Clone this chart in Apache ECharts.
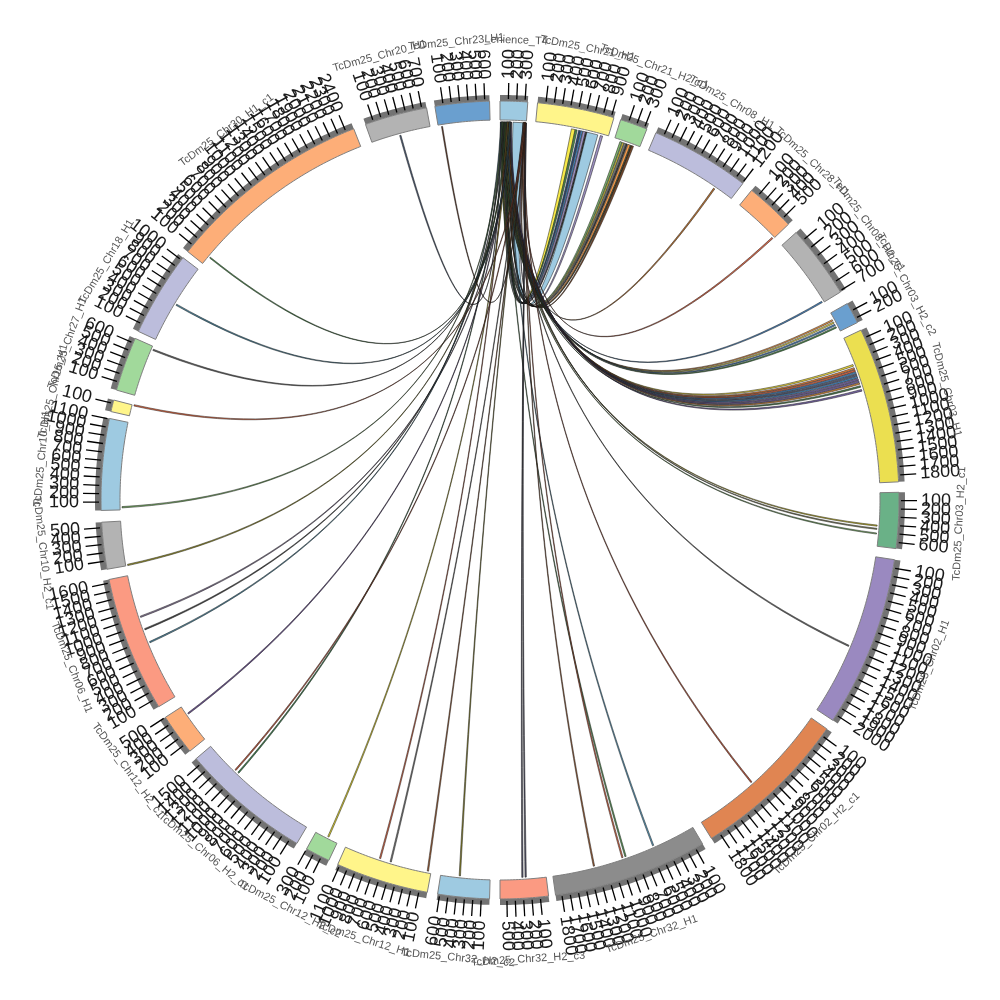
<!DOCTYPE html>
<html><head><meta charset="utf-8">
<style>html,body{margin:0;padding:0;background:#fff}#c{width:1000px;height:1000px}</style>
<script src="https://cdn.jsdelivr.net/npm/echarts@6/dist/echarts.min.js"></script>
</head><body><div id="c"></div>
<script>
// Sectors (positions in angle-axis units; the whole circle is 30000 units)
const sectorNames = ['Lenience_T4','TcDm25_Chr21_H1','TcDm25_Chr21_H2_c1','TcDm25_Chr08_H1','TcDm25_Chr28_H1','TcDm25_Chr08_H2_c1','TcDm25_Chr03_H2_c2','TcDm25_Chr03_H1','TcDm25_Chr03_H2_c1','TcDm25_Chr02_H1','TcDm25_Chr02_H2_c1','TcDm25_Chr32_H1','TcDm25_Chr32_H2_c3','TcDm25_Chr32_H2_c2','TcDm25_Chr12_H1','TcDm25_Chr12_H2_c2','TcDm25_Chr06_H2_c1','TcDm25_Chr12_H2_c1','TcDm25_Chr06_H1','TcDm25_Chr10_H2_c1','TcDm25_Chr10_H1','TcDm25_Chr15_H1','TcDm25_Chr27_H1','TcDm25_Chr18_H1','TcDm25_Chr30_H1_c1','TcDm25_Chr20_H1','TcDm25_Chr23_H1'];
const sectorStarts = [0,450,1467,1917,3258,3992,5042,5400,7408,8217,10417,12458,14417,15125,15875,17117,17550,19250,19900,21667,22375,23567,23833,24583,25708,28358,29217];
const sectorSizes = [333,933,333,1208,600,890,258,1883,675,2075,1917,1875,583,625,1125,300,1583,500,1642,567,1108,142,658,1033,2500,758,658];
const sectorTicks = [3,9,3,12,5,7,2,18,6,20,18,18,5,6,11,3,15,5,16,5,11,1,6,10,24,7,6];
const sectorTickSpacing = [100,100,100,100,100,125,100,100,100,100,100,100,100,100,100,100,100,100,100,100,100,100,100,100,100,100,100];
const sectorColors = ['#9ecae1','#fff58a','#a1d99b','#bcbddc','#fdae78','#b3b3b3','#6a9fcf','#ebdf50','#6ab187','#9a89c0','#e08552','#8c8c8c','#fb9a82','#9ecae1','#fff58a','#a1d99b','#bcbddc','#fdae78','#fb9a82','#b3b3b3','#9ecae1','#fff58a','#a1d99b','#bcbddc','#fdae78','#b3b3b3','#6a9fcf'];

// Links: every one ends on the first sector
const linkFrom = [908,958,1000,1029,1058,1092,1108,1283,1542,1575,1600,1625,1650,1683,1700,2867,3833,4858,5125,5158,5192,5225,5750,5792,5821,5850,5879,5908,5938,5967,5996,6033,6083,7817,7858,7917,9383,11517,13000,13375,13417,13792,14708,14667,15500,15908,16392,16533,17242,18642,18692,19625,20992,20825,20650,21667,22400,23700,24442,25083,25817,28717,29258];
const linkWidth = [46,24,24,24,30,18,142,30,26,20,20,18,30,18,24,19,19,18,18,18,18,18,22,22,22,22,22,22,22,22,18,20,22,14,14,14,17,17,17,17,17,17,17,17,17,17,17,17,17,17,17,17,17,17,17,17,17,17,17,17,14,17,14];
const linkTo = [100,30,50,68,80,90,164,292,5,18,40,60,104,110,302,300,296,60,24,44,72,12,96,112,108,84,116,74,122,128,104,36,132,56,78,34,116,304,88,20,310,315,322,326,300,312,296,92,118,26,306,126,136,48,10,94,22,318,130,120,62,6,320];
const linkToWidth = [11,11,11,11,11,9,126,11,11,9,9,9,11,9,11,9,9,9,9,9,9,9,11,11,11,11,11,11,11,11,9,9,11,8,8,8,9,9,9,9,9,9,9,9,9,9,9,9,9,9,9,9,9,9,9,9,9,9,9,9,8,9,8];
const linkColors = ['#f7ea4a','#4f8f4f','#2d4a77','#4a86c0','#9f93c4','#333333','#9ecae1','#9f93c4','#7fb56d','#d6c83a','#8c8c8c','#3a3a3a','#f09a4a','#4a4a2a','#7a4a2a','#b87333','#d9694a','#4a86c0','#f09a4a','#e6d94a','#4a86c0','#4f8f4f','#f0dc40','#e8803a','#d9694a','#4a86c0','#5d6480','#4a86c0','#7a68a8','#7a68a8','#e8903a','#4f7f4f','#7a68a8','#d6c83a','#8c8c6a','#7fb56d','#6a6a6a','#b8543a','#5f9fc0','#5f9f5f','#d9694a','#a0623a','#5a5a70','#5a5a70','#8f8a30','#a0623a','#7a7a7a','#d9694a','#e6d930','#3f7f4f','#b8543a','#6a4f90','#8a7a9a','#4a4a4a','#4f88a0','#a09a30','#7fb56d','#e8704a','#6a6a6a','#4f88a0','#4f8f4f','#50607a','#6a3f2a'];

const ringR = [380, 399, 405], tickR = [401, 417], labelR = 421, nameR = 460, linkR = 378, ctrlR = 20;
const FULL = 30000;

const deg = a => a / FULL * 360;
function arc(api, r, a0, a1) {
  const n = Math.max(2, Math.ceil((a1 - a0) / 40)), pts = [];
  for (let i = 0; i <= n; i++) pts.push(api.coord([r, a0 + (a1 - a0) * i / n]));
  return pts;
}
function ring(api, r0, r1, a0, a1, fill, stroke) {
  return {type:'polygon', shape:{points: arc(api, r1, a0, a1).concat(arc(api, r0, a0, a1).reverse())},
    style:{fill, stroke: stroke || fill, lineWidth: stroke ? 1 : 0}};
}
function renderSector(params, api) {
  const i = params.dataIndex, s = sectorStarts[i], e = s + sectorSizes[i], kids = [];
  kids.push(ring(api, ringR[1], ringR[2], s, e, '#737373'));
  kids.push(ring(api, ringR[0], ringR[1], s, e, sectorColors[i], '#7f7f7f'));
  for (let k = 1; k <= sectorTicks[i]; k++) {
    const a = s + k * sectorTickSpacing[i], p0 = api.coord([tickR[0], a]), p1 = api.coord([tickR[1], a]), t = deg(a);
    kids.push({type:'line', shape:{x1:p0[0], y1:p0[1], x2:p1[0], y2:p1[1]}, style:{stroke:'#000', lineWidth:1.3}});
    const right = t < 180, lp = api.coord([labelR, a]);
    kids.push({type:'text', x:lp[0], y:lp[1], rotation:((right ? 90 : 270) - t) * Math.PI / 180,
      style:{text:String(k * 100), fontSize:18, fontFamily:'"Liberation Sans"', fill:'#1a1a1a', align: right ? 'left' : 'right', verticalAlign:'middle'}});
  }
  const mid = s + sectorSizes[i] / 2, t = deg(mid), np = api.coord([nameR, mid]);
  const top = t < 90 || t > 270;
  kids.push({type:'text', x:np[0], y:np[1], rotation:(top ? -t : 180 - t) * Math.PI / 180,
    style:{text:sectorNames[i], fontSize:11, fontFamily:'"Liberation Sans"', fill:'#555', align:'center', verticalAlign:'middle'}});
  return {type:'group', children:kids};
}
function quad(p0, c, p2) {
  const out = [];
  for (let j = 0; j <= 48; j++) {
    const t = j / 48, u = 1 - t;
    out.push([u*u*p0[0] + 2*u*t*c[0] + t*t*p2[0], u*u*p0[1] + 2*u*t*c[1] + t*t*p2[1]]);
  }
  return out;
}
function renderLink(params, api) {
  const i = params.dataIndex, a0 = linkFrom[i], a1 = a0 + linkWidth[i], t0 = linkTo[i], t1 = t0 + linkToWidth[i];
  let d = a0 - t0; if (d > FULL / 2) d -= FULL;
  const bis = (t0 + d / 2 + FULL) % FULL, c = api.coord([ctrlR, bis]);
  const e1 = quad(api.coord([linkR, a1]), c, api.coord([linkR, t0]));
  const e2 = quad(api.coord([linkR, t1]), c, api.coord([linkR, a0]));
  return {type:'polygon', shape:{points:e1.concat(e2)},
    style:{fill:linkColors[i], stroke:'#111', lineWidth:0.5}};
}
const chart = echarts.init(document.getElementById('c'), null, {renderer:'canvas'});
chart.setOption({
  animation:false, backgroundColor:'#fff',
  polar:{center:[500,500], radius:500},
  angleAxis:{type:'value', min:0, max:FULL, startAngle:90, clockwise:true, show:false},
  radiusAxis:{type:'value', min:0, max:500, show:false},
  series:[
    {type:'custom', coordinateSystem:'polar', clip:false, silent:true, renderItem:renderLink,
     encode:{radius:0, angle:1}, data:linkFrom.map(a => [linkR, a])},
    {type:'custom', coordinateSystem:'polar', clip:false, silent:true, renderItem:renderSector,
     encode:{radius:0, angle:1}, data:sectorStarts.map(a => [ringR[0], a])}
  ]
});
</script></body></html>
